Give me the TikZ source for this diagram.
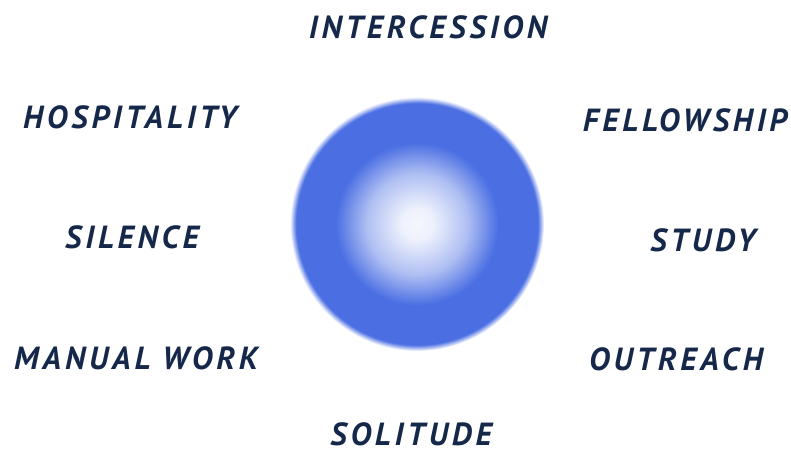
\documentclass[tikz,border=0pt]{standalone}
\usepackage{fontspec}
\setmainfont{PT Sans}
\newfontfamily\wordfont[LetterSpace=12]{PT Sans}
\definecolor{wordink}{HTML}{15284A}
\definecolor{orbblue}{HTML}{4B6FE3}
\pgfdeclareradialshading{orbglow}{\pgfpoint{0bp}{0bp}}{%
  color(0bp)=(white!94!orbblue);
  color(3bp)=(white!91!orbblue);
  color(10bp)=(orbblue!45!white);
  color(16bp)=(orbblue);
  color(23.8bp)=(orbblue);
  color(25bp)=(white);
  color(50bp)=(white)}
\tikzset{word/.style={text=wordink,inner sep=1pt,font=\wordfont\fontsize{32}{36}\selectfont\bfseries\itshape}}

\begin{document}
\begin{tikzpicture}[x=1pt,y=-1pt]
\useasboundingbox (0,0) rectangle (791,449);
% ---- the orb ----
\shade[shading=orbglow] (417,224) circle (127);
% ---- the words round it ----
\node[word] (intercession) at (428,27) {INTERCESSION};
\node[word] (hospitality) at (130,117) {HOSPITALITY};
\node[word] (fellowship) at (685,120) {FELLOWSHIP};
\node[word] (silence) at (132,237) {SILENCE};
\node[word] (study) at (703,240) {STUDY};
\node[word] (manualwork) at (136,358) {MANUAL WORK};
\node[word] (outreach) at (676,359) {OUTREACH};
\node[word] (solitude) at (411,434) {SOLITUDE};
\end{tikzpicture}
\end{document}
